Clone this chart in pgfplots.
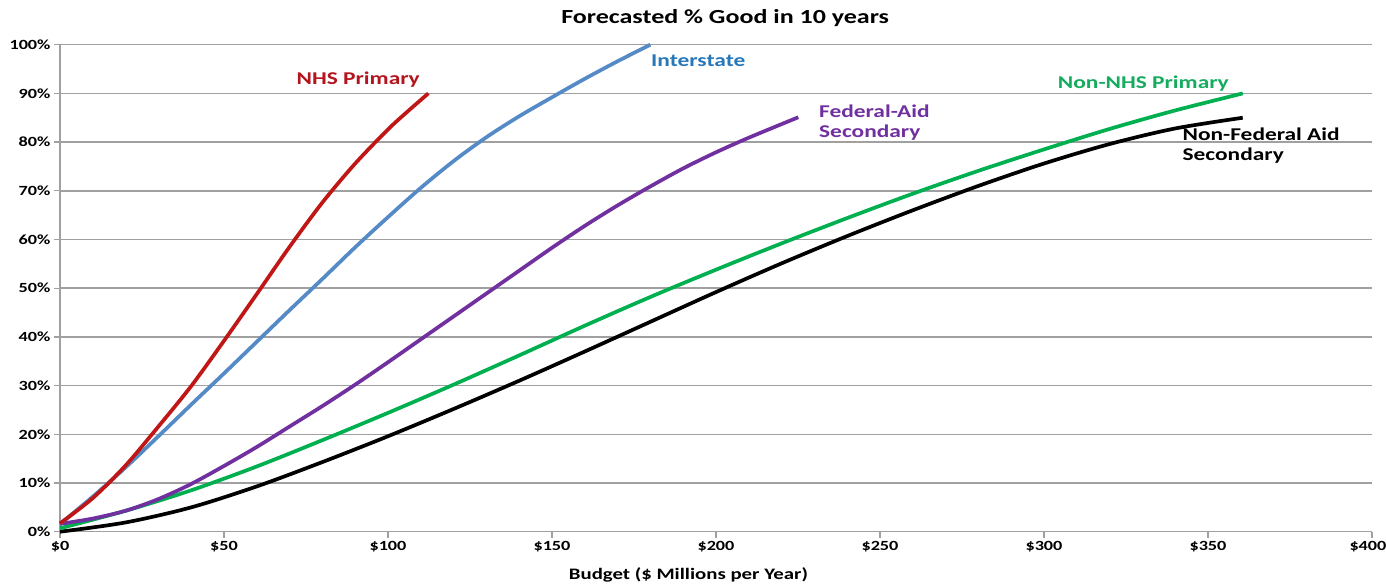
\documentclass[border=0pt]{standalone}
\usepackage{fontspec}
\setmainfont{Carlito}[FakeStretch=1.3]
\usepackage{pgfplots}
\pgfplotsset{compat=1.18}
\definecolor{gridgray}{RGB}{160,160,160}
\definecolor{cred}{RGB}{192,22,22}
\definecolor{cblue}{RGB}{84,138,198}
\definecolor{cpurple}{RGB}{112,48,160}
\definecolor{cgreen}{RGB}{0,176,80}
\definecolor{lred}{RGB}{180,20,30}
\definecolor{lblue}{RGB}{40,120,185}
\definecolor{lpurple}{RGB}{112,48,160}
\definecolor{lgreen}{RGB}{20,172,95}
\begin{document}
\begin{tikzpicture}
\useasboundingbox (-60pt,-52.3pt) rectangle (1326pt,531.7pt);
\begin{axis}[
  scale only axis, width=1312pt, height=487pt,
  xmin=0, xmax=400, ymin=0, ymax=100,
  clip=false,
  axis x line*=bottom, axis y line*=left,
  axis line style={draw=gridgray, line width=1.5pt, -},
  ymajorgrids, grid style={draw=gridgray, line width=1.5pt},
  xtick={0,50,...,350}, ytick={0,10,...,100},
  extra x ticks={400},
  extra x tick style={xticklabel style={xshift=-4pt}},
  xticklabel={\$\pgfmathprintnumber{\tick}},
  yticklabel={\pgfmathprintnumber{\tick}\%},
  /pgf/number format/assume math mode=true,
  tick align=outside, major tick length=6pt,
  tick style={draw=gridgray, line width=1.2pt},
  ticklabel style={font=\bfseries\fontsize{14}{16}\selectfont},
  yticklabel style={anchor=east},
  xticklabel style={anchor=north},
  title={Forecasted \% Good in 10 years},
  title style={font=\bfseries\fontsize{20}{24}\selectfont, at={(axis description cs:0.507,1)}, anchor=base, yshift=15pt},
  xlabel={Budget (\$ Millions per Year)},
  xlabel style={font=\bfseries\fontsize{16}{19}\selectfont, at={(axis description cs:0.479,0)}, anchor=base, yshift=-47.3pt},
]
\addplot[smooth, draw=black, line width=3.7pt] coordinates {(0,0) (20,1.9) (40,5.0) (60,9.3) (80,14.3) (100,19.6) (120,25.2) (140,31.0) (160,37.0) (180,43.1) (200,49.2) (220,55.1) (240,60.7) (260,66.0) (280,71.0) (300,75.6) (320,79.6) (340,82.8) (360.6,85)};
\addplot[smooth, draw=cgreen, line width=3.7pt] coordinates {(0,0.7) (20,4.3) (40,8.5) (60,13.4) (80,18.8) (100,24.4) (120,30.2) (140,36.2) (160,42.3) (180,48.2) (200,53.8) (220,59.2) (240,64.4) (260,69.4) (280,74.1) (300,78.5) (320,82.7) (340,86.5) (360.6,90)};
\addplot[smooth, draw=cpurple, line width=3.7pt] coordinates {(0,1.6) (10,2.7) (20,4.3) (30,6.7) (40,9.8) (50,13.5) (60,17.4) (70,21.6) (80,25.8) (90,30.2) (100,34.8) (110,39.5) (120,44.2) (130,48.9) (140,53.6) (150,58.3) (160,62.8) (170,67.0) (180,70.9) (190,74.6) (200,77.9) (210,80.9) (225.1,85.1)};
\addplot[smooth, draw=cblue, line width=3.7pt] coordinates {(0,1.6) (10,7.2) (20,13.2) (30,19.6) (40,26.1) (50,32.5) (60,39.0) (70,45.5) (80,51.9) (90,58.4) (100,64.6) (110,70.6) (120,76.1) (130,81.0) (140,85.3) (150,89.2) (160,93.0) (170,96.6) (180,100)};
\addplot[smooth, draw=cred, line width=3.7pt] coordinates {(0,1.7) (10,6.9) (20,13.6) (30,21.6) (40,29.9) (50,39.2) (60,48.8) (70,58.5) (80,67.6) (90,75.6) (100,82.6) (106,86.3) (112.3,90)};
\begin{scope}[every node/.style={inner sep=0pt, anchor=base west, font=\bfseries\fontsize{18}{21}\selectfont}]
\node[text=lred] at (axis cs:72.1,91.9) {NHS Primary};
\node[text=lblue] at (axis cs:180.2,95.6) {Interstate};
\node[text=lpurple] at (axis cs:231.4,85.1) {Federal-Aid};
\node[text=lpurple] at (axis cs:231.4,80.9) {Secondary};
\node[text=lgreen] at (axis cs:304.2,91.0) {Non-NHS Primary};
\node[text=black] at (axis cs:342.2,80.4) {Non-Federal Aid};
\node[text=black] at (axis cs:342.2,76.2) {Secondary};
\end{scope}
\end{axis}
\end{tikzpicture}
\end{document}
